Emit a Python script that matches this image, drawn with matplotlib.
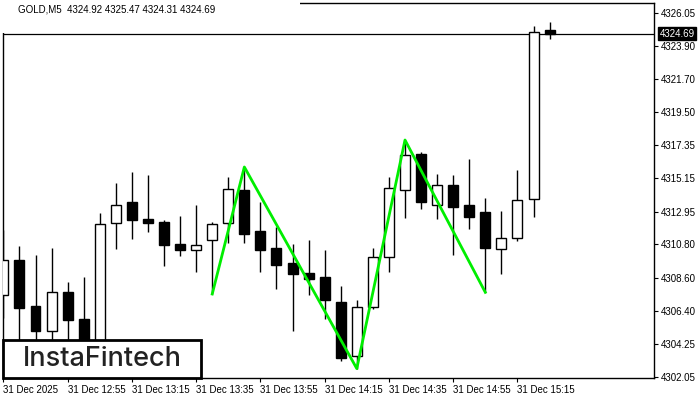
import matplotlib
matplotlib.use("Agg")
import matplotlib.pyplot as plt
from matplotlib.patches import Rectangle

plt.rcParams['font.family'] = ['Liberation Sans', 'DejaVu Sans']

# 5-minute GOLD candles, 31 Dec 2025 from 12:35
opens  = [4307.44, 4309.76, 4306.73, 4305.06, 4307.65, 4305.87, 4303.90, 4312.18, 4313.59, 4312.47,
          4312.27, 4310.82, 4310.40, 4311.06, 4312.18, 4314.36, 4311.68, 4310.56, 4309.57, 4308.91,
          4308.64, 4307.00, 4303.42, 4306.65, 4309.94, 4314.36, 4316.75, 4313.37, 4314.71, 4313.37,
          4312.93, 4310.47, 4311.20, 4313.77, 4324.92]
highs  = [4311.74, 4310.69, 4310.09, 4310.56, 4308.31, 4308.64, 4312.86, 4314.84, 4315.57, 4315.39,
          4312.40, 4312.67, 4313.39, 4312.27, 4315.24, 4315.90, 4313.59, 4311.94, 4310.82, 4311.08,
          4310.42, 4308.05, 4307.13, 4310.58, 4315.24, 4317.68, 4316.88, 4315.45, 4315.37, 4316.42,
          4313.85, 4313.00, 4315.70, 4325.19, 4325.47]
lows   = [4305.94, 4304.20, 4303.80, 4304.00, 4303.90, 4303.20, 4303.50, 4310.51, 4311.17, 4311.63,
          4309.39, 4310.05, 4308.95, 4307.52, 4310.91, 4310.91, 4308.99, 4307.87, 4305.10, 4307.48,
          4305.89, 4303.12, 4302.60, 4306.53, 4308.99, 4312.55, 4313.13, 4312.49, 4310.11, 4311.79,
          4307.63, 4308.86, 4311.00, 4312.62, 4324.31]
closes = [4309.76, 4306.62, 4305.10, 4307.63, 4305.83, 4303.90, 4312.14, 4313.39, 4312.42, 4312.22,
          4310.77, 4310.44, 4310.73, 4312.12, 4314.43, 4311.50, 4310.44, 4309.45, 4308.86, 4308.53,
          4307.15, 4303.32, 4306.65, 4309.94, 4314.49, 4316.69, 4313.61, 4314.69, 4313.28, 4312.62,
          4310.58, 4311.20, 4313.70, 4324.82, 4324.69]

# pattern line
pattern_idx = [13, 15, 22, 25, 30]
pattern_px  = [4307.52, 4315.90, 4302.60, 4317.68, 4307.63]

price_ticks = [4326.05, 4323.90, 4321.70, 4319.50, 4317.35, 4315.15, 4312.95,
               4310.80, 4308.60, 4306.40, 4304.25, 4302.05]
time_tick_idx = [0, 4, 8, 12, 16, 20, 24, 28, 32]
time_labels = ['31 Dec 2025', '31 Dec 12:55', '31 Dec 13:15', '31 Dec 13:35', '31 Dec 13:55',
               '31 Dec 14:15', '31 Dec 14:35', '31 Dec 14:55', '31 Dec 15:15']
last_price = 4324.69

fig = plt.figure(figsize=(7, 4), dpi=100)
ax = fig.add_axes([0.0039, 0.055, 0.9304, 0.938])

x = list(range(len(opens)))
ax.vlines(x, lows, highs, color='black', lw=1, zorder=2)
for i in x:
    o, c = opens[i], closes[i]
    fc = 'white' if c >= o else 'black'
    ax.bar(i, abs(c - o), bottom=min(o, c), width=0.62, color=fc,
           edgecolor='black', linewidth=1, zorder=3)

ax.plot(pattern_idx, pattern_px, color='#00ee00', lw=2, zorder=4)
ax.axhline(last_price, color='black', lw=0.9, zorder=1)

ax.set_xlim(-0.04, 40.5)
ax.set_ylim(4301.98, 4326.73)

ax.yaxis.tick_right()
ax.set_yticks(price_ticks)
ax.set_yticklabels([f'{p:.2f}' for p in price_ticks])
ax.set_xticks(time_tick_idx)
ax.set_xticklabels(time_labels, ha='left')
ax.tick_params(axis='both', direction='out', length=3, width=0.8, labelsize=7, pad=2)
for s in ax.spines.values():
    s.set_linewidth(1)

ax.annotate(f'{last_price:.2f}', xy=(1.0, last_price), xycoords=('axes fraction', 'data'),
            xytext=(4, 0), textcoords='offset points', ha='left', va='center',
            fontsize=7, color='white',
            bbox=dict(boxstyle='square,pad=0.15', fc='black', ec='black'))

# white band behind the info line hides the frame corner there
fig.add_artist(Rectangle((0, 1 - 33 / 400), 300 / 700, 33 / 400,
                         transform=fig.transFigure, fc='white', ec='none', zorder=2))
fig.text(18 / 700, 1 - 10 / 400, 'GOLD,M5  4324.92 4325.47 4324.31 4324.69',
         fontsize=7, va='center', ha='left', zorder=3)

# logo
fig.add_artist(Rectangle((3 / 700, 1 - 378 / 400), 198 / 700, 38 / 400,
                         transform=fig.transFigure, fc='white', ec='black', lw=2, zorder=5))
fig.text(102 / 700, 1 - 359 / 400, 'InstaFintech', fontsize=19.5, color='#222222',
         family=['Inter', 'DejaVu Sans'], weight='medium', ha='center', va='center', zorder=6)

fig.savefig('out.png', dpi=100)
